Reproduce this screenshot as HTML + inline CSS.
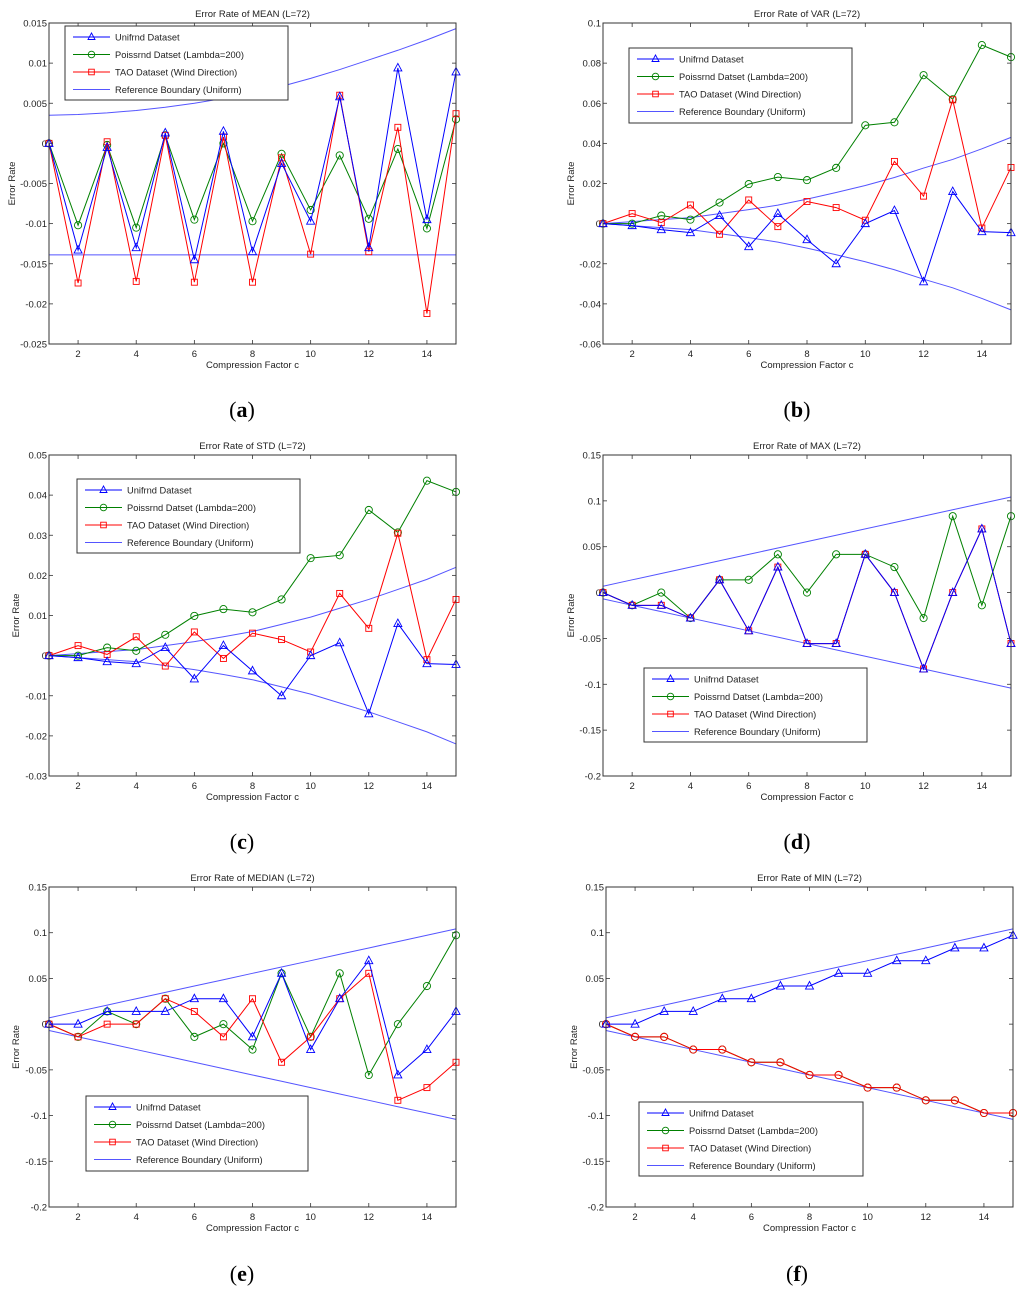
<!DOCTYPE html>
<html><head><meta charset="utf-8">
<style>
body{margin:0;background:#fff;width:1024px;height:1293px;overflow:hidden;font-family:"Liberation Sans",Arial,sans-serif}
svg text{font-family:"Liberation Sans",Arial,sans-serif}
.lab{font-family:"Liberation Serif",serif;font-size:22px}
</style></head><body>
<svg id="fig" width="1024" height="1293" viewBox="0 0 1024 1293" xmlns="http://www.w3.org/2000/svg">
<text class="lab" x="242" y="417" text-anchor="middle">(<tspan font-weight="bold">a</tspan>)</text>
<text class="lab" x="797" y="417" text-anchor="middle">(<tspan font-weight="bold">b</tspan>)</text>
<text class="lab" x="242" y="849" text-anchor="middle">(<tspan font-weight="bold">c</tspan>)</text>
<text class="lab" x="797" y="849" text-anchor="middle">(<tspan font-weight="bold">d</tspan>)</text>
<text class="lab" x="242" y="1281" text-anchor="middle">(<tspan font-weight="bold">e</tspan>)</text>
<text class="lab" x="797" y="1281" text-anchor="middle">(<tspan font-weight="bold">f</tspan>)</text>
</svg>
<script>
const cats=[1,2,3,4,5,6,7,8,9,10,11,12,13,14,15];
const xTicks=[2,4,6,8,10,12,14];
// (a) MEAN
const aUnif=[0,-0.0133,-0.0005,-0.013,0.0013,-0.0145,0.0015,-0.0135,-0.0025,-0.0097,0.0058,-0.013,0.0094,-0.0095,0.0089];
const aPois=[0,-0.0102,-0.0002,-0.0105,0.001,-0.0095,0.0,-0.0097,-0.0013,-0.0083,-0.0015,-0.0094,-0.0007,-0.0106,0.003];
const aTao=[0,-0.0174,0.0002,-0.0172,0.001,-0.0173,0.0008,-0.0173,-0.0018,-0.0138,0.006,-0.0135,0.002,-0.0212,0.0037];
const aRefHi=[0.0035,0.0036,0.0038,0.0041,0.0045,0.005,0.0056,0.0063,0.0071,0.0081,0.0092,0.0104,0.0116,0.0129,0.0143];
const aRefLo=[-0.0139,-0.0139,-0.0139,-0.0139,-0.0139,-0.0139,-0.0139,-0.0139,-0.0139,-0.0139,-0.0139,-0.0139,-0.0139,-0.0139,-0.0139];
const aTicks=[0.015,0.01,0.005,0,-0.005,-0.01,-0.015,-0.02,-0.025];
// (b) VAR
const bUnif=[0,-0.001,-0.003,-0.0045,0.004,-0.0115,0.005,-0.008,-0.02,0,0.0065,-0.029,0.016,-0.004,-0.0045];
const bPois=[0,0,0.004,0.002,0.0105,0.0197,0.0232,0.0217,0.0278,0.049,0.0505,0.074,0.062,0.089,0.083];
const bTao=[0,0.005,0.0005,0.0093,-0.0053,0.0118,-0.0015,0.011,0.008,0.0017,0.031,0.0137,0.0617,-0.0022,0.028];
const bRefHi=[0,0.001,0.002,0.003,0.005,0.007,0.0092,0.0122,0.0155,0.019,0.023,0.0277,0.032,0.0373,0.043];
const bRefLo=bRefHi.map(v=>-v);
const bTicks=[0.1,0.08,0.06,0.04,0.02,0,-0.02,-0.04,-0.06];
// (c) STD
const cUnif=[0,-0.0005,-0.0015,-0.002,0.002,-0.0058,0.0025,-0.0038,-0.01,0,0.0032,-0.0145,0.008,-0.002,-0.0022];
const cPois=[0,0,0.002,0.0012,0.0052,0.0099,0.0116,0.0108,0.014,0.0243,0.025,0.0363,0.0307,0.0436,0.0408];
const cTao=[0,0.0025,0.0003,0.0047,-0.0026,0.0059,-0.0007,0.0056,0.004,0.0009,0.0155,0.0068,0.0305,-0.001,0.014];
const cRefHi=[0,0.0005,0.001,0.0015,0.0025,0.0035,0.0047,0.006,0.0078,0.0096,0.0118,0.014,0.0165,0.019,0.022];
const cRefLo=cRefHi.map(v=>-v);
const cTicks=[0.05,0.04,0.03,0.02,0.01,0,-0.01,-0.02,-0.03];
// (d) MAX
const dUnif=[0,-0.0139,-0.0139,-0.0278,0.0139,-0.0417,0.0278,-0.0556,-0.0556,0.0417,0,-0.0833,0,0.0694,-0.0556];
const dPois=[0,-0.0139,0,-0.0278,0.0139,0.0139,0.0417,0,0.0417,0.0417,0.0278,-0.0278,0.0833,-0.0139,0.0833];
const dTao=[0,-0.0139,-0.0139,-0.0278,0.0139,-0.0417,0.0278,-0.0556,-0.0556,0.0417,0,-0.0833,0,0.0694,-0.0556];
const dRefHi=[0.0069,0.0139,0.0208,0.0278,0.0347,0.0417,0.0486,0.0556,0.0625,0.0694,0.0764,0.0833,0.0903,0.0972,0.1042];
const dRefLo=dRefHi.map(v=>-v);
const pTicks=[0.15,0.1,0.05,0,-0.05,-0.1,-0.15,-0.2];
// (e) MEDIAN
const eUnif=[0,0,0.0139,0.0139,0.0139,0.0278,0.0278,-0.0139,0.0556,-0.0278,0.0278,0.0694,-0.0556,-0.0278,0.0139];
const ePois=[0,-0.0139,0.0139,0,0.0278,-0.0139,0,-0.0278,0.0556,-0.0139,0.0556,-0.0556,0,0.0417,0.0972];
const eTao=[0,-0.0139,0,0,0.0278,0.0139,-0.0139,0.0278,-0.0417,-0.0139,0.0278,0.0556,-0.0833,-0.0694,-0.0417];
// (f) MIN
const fUnif=[0,0,0.0139,0.0139,0.0278,0.0278,0.0417,0.0417,0.0556,0.0556,0.0694,0.0694,0.0833,0.0833,0.0972];
const fPois=[0,-0.0139,-0.0139,-0.0278,-0.0278,-0.0417,-0.0417,-0.0556,-0.0556,-0.0694,-0.0694,-0.0833,-0.0833,-0.0972,-0.0972];
const fTao=[0,-0.0139,-0.0139,-0.0278,-0.0278,-0.0417,-0.0417,-0.0556,-0.0556,-0.0694,-0.0694,-0.0833,-0.0833,-0.0972,-0.0972];

const NS='http://www.w3.org/2000/svg';
const svg=document.getElementById('fig');
function mk(tag,attrs,parent){const e=document.createElementNS(NS,tag);for(const k in attrs)e.setAttribute(k,attrs[k]);(parent||svg).appendChild(e);return e;}
const BLUE='#0000ff',GREEN='#008000',RED='#ff0000',REF='#5555ff';

function panel(o){
  const g=mk('g',{});
  
  
  const L=o.l,R=o.r,T=o.t,B=o.b;
  const xs=c=>L+(c-1)/14*(R-L);
  const ys=v=>T+(o.ymax-v)/(o.ymax-o.ymin)*(B-T);
  mk('rect',{x:L,y:T,width:R-L,height:B-T,fill:'#fff',stroke:'none'},g);
  // ticks
  xTicks.forEach(t=>{
    const x=xs(t);
    mk('line',{x1:x,y1:B,x2:x,y2:B-4,stroke:'#333','stroke-width':0.8},g);
    mk('line',{x1:x,y1:T,x2:x,y2:T+4,stroke:'#333','stroke-width':0.8},g);
    const tx=mk('text',{x:x,y:B+13,'font-size':9.5,'text-anchor':'middle',fill:'#222'},g);
    tx.textContent=t;
    
    
  });
  o.ticks.forEach(t=>{
    const y=ys(t);
    mk('line',{x1:L,y1:y,x2:L+4,y2:y,stroke:'#333','stroke-width':0.8},g);
    mk('line',{x1:R,y1:y,x2:R-4,y2:y,stroke:'#333','stroke-width':0.8},g);
    const tx=mk('text',{x:L-2,y:y+3.5,'font-size':9.5,'text-anchor':'end',fill:'#222'},g);
    tx.textContent=String(t);
    
    
  });
  // series
  function line(vals,col,w,name){
    const p=mk('polyline',{points:vals.map((v,i)=>xs(cats[i])+','+ys(v)).join(' '),fill:'none',stroke:col,'stroke-width':w},g);
    
    
  }
  function marks(vals,col,shape,name){
    vals.forEach((v,i)=>{
      const x=xs(cats[i]),y=ys(v);let m;
      if(shape==='tri')m=mk('polygon',{points:`${x},${y-4.5} ${x-4},${y+3} ${x+4},${y+3}`,fill:'none',stroke:col,'stroke-width':0.9},g);
      else if(shape==='circ')m=mk('circle',{cx:x,cy:y,r:3.6,fill:'none',stroke:col,'stroke-width':0.9},g);
      else m=mk('rect',{x:x-3,y:y-3,width:6,height:6,fill:'none',stroke:col,'stroke-width':0.9},g);
      
      
    });
  }
  line(o.refHi,REF,1,'reference-upper');
  line(o.refLo,REF,1,'reference-lower');
  line(o.pois,GREEN,1,'poissrnd-line');marks(o.pois,GREEN,'circ','poissrnd-marker');
  line(o.tao,RED,1,'tao-line');marks(o.tao,RED,o.taoShape||'sq','tao-marker');
  line(o.unif,BLUE,1,'unifrnd-line');marks(o.unif,BLUE,'tri','unifrnd-marker');
  mk('rect',{x:L,y:T,width:R-L,height:B-T,fill:'none',stroke:'#333','stroke-width':1},g);
  // title & axis labels
  const tt=mk('text',{x:(L+R)/2,y:T-6,'font-size':9.5,'text-anchor':'middle',fill:'#222'},g);
  tt.textContent=o.title;
  
  
  const xl=mk('text',{x:(L+R)/2,y:B+24,'font-size':9.5,'text-anchor':'middle',fill:'#222'},g);
  xl.textContent='Compression Factor c';
  
  
  const yx=o.ylx, yy=(T+B)/2;
  const yl=mk('text',{x:yx,y:yy,'font-size':9.5,'text-anchor':'middle',fill:'#222',transform:`rotate(-90 ${yx} ${yy})`},g);
  yl.textContent='Error Rate';
  
  
  // legend
  const lg=mk('g',{},g);
  
  
  const [lx,ly,lw,lh]=o.leg;
  mk('rect',{x:lx,y:ly,width:lw,height:lh,fill:'#fff',stroke:'#333','stroke-width':1},lg);
  const ents=[['Unifrnd Dataset',BLUE,'tri'],['Poissrnd Datset (Lambda=200)',GREEN,'circ'],['TAO Dataset (Wind Direction)',RED,'sq'],['Reference Boundary (Uniform)',REF,null]];
  ents.forEach((e,i)=>{
    const y=ly+11+i*17.5;
    const eg=mk('g',{},lg);
    
    
    mk('line',{x1:lx+8,y1:y,x2:lx+45,y2:y,stroke:e[1],'stroke-width':1},eg);
    const cx=lx+26.5;
    if(e[2]==='tri')mk('polygon',{points:`${cx},${y-4} ${cx-3.5},${y+2.5} ${cx+3.5},${y+2.5}`,fill:'none',stroke:e[1],'stroke-width':0.9},eg);
    if(e[2]==='circ')mk('circle',{cx:cx,cy:y,r:3.3,fill:'none',stroke:e[1],'stroke-width':0.9},eg);
    if(e[2]==='sq')mk('rect',{x:cx-2.8,y:y-2.8,width:5.6,height:5.6,fill:'none',stroke:e[1],'stroke-width':0.9},eg);
    const t=mk('text',{x:lx+50,y:y+3.3,'font-size':9.3,fill:'#222'},eg);
    t.textContent=e[0];
  });
}
panel({id:'mean',title:'Error Rate of MEAN (L=72)',l:49,r:456,t:23,b:344,ymin:-0.025,ymax:0.015,ticks:aTicks,unif:aUnif,pois:aPois,tao:aTao,refHi:aRefHi,refLo:aRefLo,ylx:15,leg:[65,26,223,74]});
panel({id:'var',title:'Error Rate of VAR (L=72)',l:603,r:1011,t:23,b:344,ymin:-0.06,ymax:0.1,ticks:bTicks,unif:bUnif,pois:bPois,tao:bTao,refHi:bRefHi,refLo:bRefLo,ylx:574,leg:[629,48,223,75]});
panel({id:'std',title:'Error Rate of STD (L=72)',l:49,r:456,t:455,b:776,ymin:-0.03,ymax:0.05,ticks:cTicks,unif:cUnif,pois:cPois,tao:cTao,refHi:cRefHi,refLo:cRefLo,ylx:19,leg:[77,479,223,74]});
panel({id:'max',title:'Error Rate of MAX (L=72)',l:603,r:1011,t:455,b:776,ymin:-0.2,ymax:0.15,ticks:pTicks,unif:dUnif,pois:dPois,tao:dTao,refHi:dRefHi,refLo:dRefLo,ylx:574,leg:[644,668,223,74]});
panel({id:'median',title:'Error Rate of MEDIAN (L=72)',l:49,r:456,t:887,b:1207,ymin:-0.2,ymax:0.15,ticks:pTicks,unif:eUnif,pois:ePois,tao:eTao,refHi:dRefHi,refLo:dRefLo,ylx:19,leg:[86,1096,222,75]});
panel({id:'min',title:'Error Rate of MIN (L=72)',l:606,r:1013,t:887,b:1207,ymin:-0.2,ymax:0.15,ticks:pTicks,unif:fUnif,pois:fPois,tao:fTao,taoShape:'circ',refHi:dRefHi,refLo:dRefLo,ylx:577,leg:[639,1102,224,74]});
</script>
</body></html>
